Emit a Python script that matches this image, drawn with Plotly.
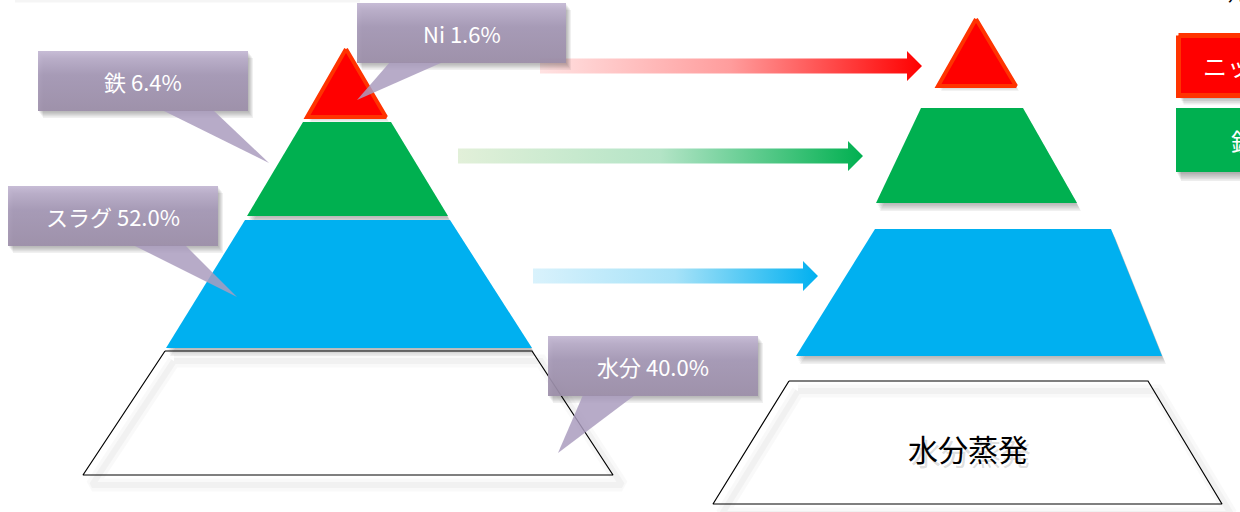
import plotly.graph_objects as go

# composition of the material before drying
components = ["Ni", "鉄", "スラグ", "水分"]
shares = [1.6, 6.4, 52.0, 40.0]
legend_labels = ["ニッケル", "鉄"]
legend_title = "凡例"
after_caption = "水分蒸発"

W, H = 1240, 512
FONT = "Noto Sans CJK JP"

# layer outlines: (top_y, top_left, top_right, bottom_y, bottom_left, bottom_right)
left_layers = [
    (49, 346, 346, 117, 307, 386),
    (122, 303, 391, 216, 247, 448),
    (220, 245, 450, 348, 166, 532),
    (351, 165, 532, 475, 83, 613),
]
right_layers = [
    (19, 976, 976, 86, 938, 1016),
    (108, 921, 1023, 203, 876, 1077),
    (229, 875, 1111, 356, 796, 1162),
    (381, 789, 1148, 504, 713, 1222),
]
layer_fill = ["#FF0000", "#00B050", "#00B0F0", "#FFFFFF"]

# arrows: (y, x_start, x_tip, colorscale)
arrows = [
    (66, 540, 922, [[0, "#FFE2E2"], [0.5, "#FF9C9C"], [1, "#FF0000"]]),
    (156, 458, 863, [[0, "#E2F0D9"], [0.5, "#B3E4C6"], [1, "#00B050"]]),
    (276, 533, 818, [[0, "#D9F2FC"], [0.5, "#A6E2F8"], [1, "#00B0F0"]]),
]

# callouts: box (x0, x1, y0, y1), pointer (base_x0, base_x1, tip_x, tip_y)
callouts = [
    ((357, 566, 3, 63), (390, 443, 357, 100)),
    ((38, 248, 51, 111), (162, 213, 269, 163)),
    ((8, 218, 186, 246), (133, 185, 237, 297)),
    ((548, 758, 336, 396), (583, 635, 558, 453)),
]

fig = go.Figure()


def poly(xs, ys, **kw):
    kw.setdefault("line", dict(width=0))
    fig.add_trace(go.Scatter(
        x=list(xs) + [xs[0]], y=list(ys) + [ys[0]],
        mode="lines", fill="toself", hoverinfo="skip", showlegend=False, **kw))


def outline(xs, ys, color, width):
    fig.add_trace(go.Scatter(
        x=list(xs) + [xs[0]], y=list(ys) + [ys[0]], mode="lines",
        line=dict(color=color, width=width), hoverinfo="skip", showlegend=False))


def shadow(xs, ys, dx=4, dy=6, steps=5, alpha=0.055):
    for i in range(steps, 0, -1):
        f = i / steps
        poly([x + dx * f for x in xs], [y + dy * f for y in ys],
             fillcolor=f"rgba(0,0,0,{alpha})")


def layer_xy(layer):
    ty, tl, tr, by, bl, br = layer
    if tl == tr:
        return [tl, br, bl], [ty, by, by]
    return [tl, tr, br, bl], [ty, ty, by, by]


def draw_pyramid(layers):
    for i, layer in enumerate(layers):
        xs, ys = layer_xy(layer)
        if i == 3:
            # blurred shadow of the outline, then the outlined white base
            sx = [x + 9 for x in xs]
            sy = [y + 10 for y in ys]
            outline(sx, sy, "rgba(0,0,0,0.025)", 13)
            outline(sx, sy, "rgba(0,0,0,0.03)", 6)
            outline(xs, ys, "#000000", 1.2)
        elif i == 0:
            shadow(xs, ys, dx=3, dy=5, steps=4, alpha=0.05)
            poly(xs, ys, fillcolor=layer_fill[i], line=dict(color="#FF3300", width=4))
        else:
            shadow(xs, ys, dx=4, dy=8, steps=5, alpha=0.06)
            poly(xs, ys, fillcolor=layer_fill[i])


# faint rule along the top edge
fig.add_trace(go.Scatter(x=[15, 360], y=[1, 1], mode="lines",
                         line=dict(color="rgba(0,0,0,0.04)", width=3),
                         hoverinfo="skip", showlegend=False))

draw_pyramid(left_layers)
draw_pyramid(right_layers)

# gradient arrows from the raw material to the dried product
for y, x0, xt, cs in arrows:
    hs, hh, hl = 7.5, 15, 15
    xh = xt - hl
    poly([x0, xh, xh, xt, xh, xh, x0],
         [y - hs, y - hs, y - hh, y, y + hh, y + hs, y + hs],
         fillgradient=dict(type="horizontal", colorscale=cs, start=x0, stop=xt))

# caption on the evaporated base, with a soft shadow
base = right_layers[3]
cx = (base[1] + base[2] + base[4] + base[5]) / 4
cy = (base[0] + base[3]) / 2 + 5
fig.add_annotation(x=cx + 3, y=cy + 4, text=after_caption, showarrow=False,
                   font=dict(family=FONT, size=30, color="rgba(0,0,0,0.14)"))
fig.add_annotation(x=cx, y=cy, text=after_caption, showarrow=False,
                   font=dict(family=FONT, size=30, color="#000000"))

# legend boxes at the right edge
legend_boxes = [(1178.5, 35.5, 95.5, "#FF0000", "#FF3300", 5), (1176, 108, 172, "#00B050", None, 0)]
for bx, by0, by1, fc, lc, lw in legend_boxes:
    xs = [bx, 1300, 1300, bx]
    ys = [by0, by0, by1, by1]
    shadow(xs, ys, dx=5, dy=9, steps=5, alpha=0.07)
    poly(xs, ys, fillcolor=fc, line=dict(color=lc, width=lw) if lc else dict(width=0))
legend_text_x = [1201, 1229]
for (bx, by0, by1, *_), txt, tx in zip(legend_boxes, legend_labels, legend_text_x):
    fig.add_annotation(x=tx, y=(by0 + by1) / 2, text=txt, showarrow=False, xanchor="left",
                       font=dict(family=FONT, size=24, color="#FFFFFF"))
fig.add_annotation(x=1226 / W, y=1, xref="paper", yref="paper", yanchor="middle", yshift=7,
                   text=legend_title, showarrow=False, xanchor="left",
                   font=dict(family=FONT, size=18, color="#000000"))

# percentage callouts
for (name, share), ((x0, x1, y0, y1), (px0, px1, tx, ty)) in zip(zip(components, shares), callouts):
    bxs, bys = [x0, x1, x1, x0], [y0, y0, y1, y1]
    shadow(bxs, bys, dx=5, dy=7, steps=5, alpha=0.06)
    poly([px0, px1, tx], [y1 - 1, y1 - 1, ty], fillcolor="rgba(170,156,190,0.85)")
    poly(bxs, bys, opacity=0.92,
         fillgradient=dict(type="vertical",
                           colorscale=[[0, "#C2B6D2"], [0.4, "#A598B6"], [1, "#9C8EA9"]],
                           start=y0, stop=y1))
    fig.add_annotation(x=(x0 + x1) / 2, y=(y0 + y1) / 2, text=f"{name} {share:.1f}%",
                       showarrow=False, font=dict(family=FONT, size=22, color="#FFFFFF"))

fig.update_layout(
    width=W, height=H, margin=dict(l=0, r=0, t=0, b=0),
    paper_bgcolor="#FFFFFF", plot_bgcolor="#FFFFFF",
    xaxis=dict(range=[0, W], visible=False, fixedrange=True),
    yaxis=dict(range=[H, 0], visible=False, fixedrange=True),
    showlegend=False,
)

fig.write_html("out.html")
